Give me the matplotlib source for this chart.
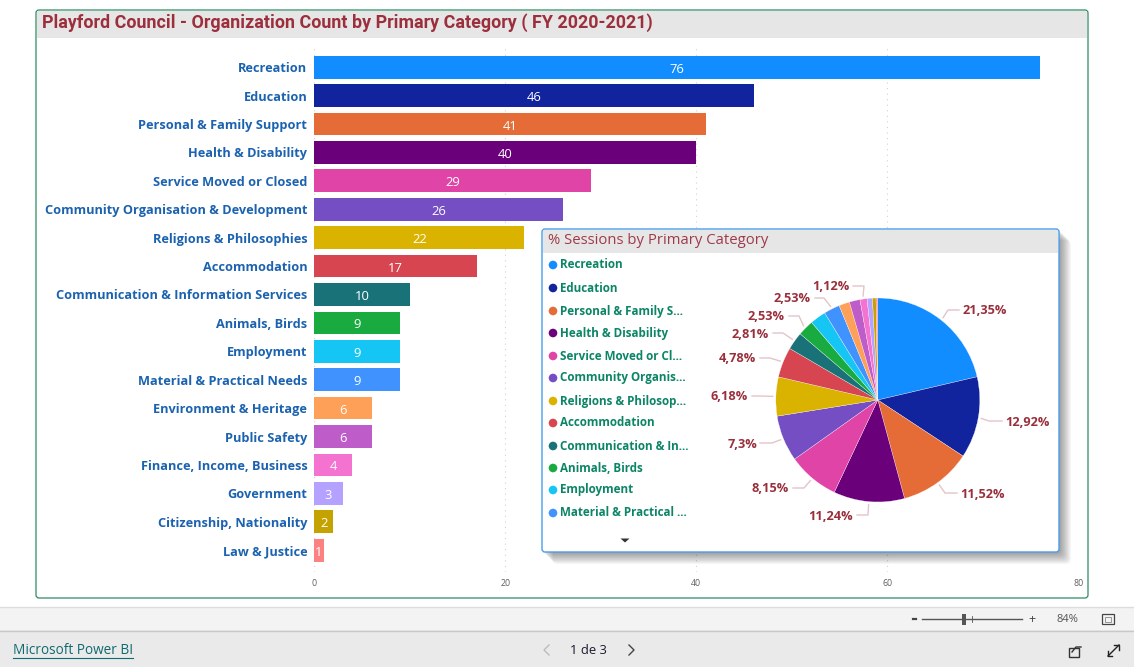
import matplotlib
matplotlib.use("Agg")
import numpy as np
import matplotlib.pyplot as plt
from matplotlib.patches import FancyBboxPatch, Rectangle, Circle, Polygon

categories = ["Recreation", "Education", "Personal & Family Support", "Health & Disability",
              "Service Moved or Closed", "Community Organisation & Development",
              "Religions & Philosophies", "Accommodation", "Communication & Information Services",
              "Animals, Birds", "Employment", "Material & Practical Needs", "Environment & Heritage",
              "Public Safety", "Finance, Income, Business", "Government",
              "Citizenship, Nationality", "Law & Justice"]
org_counts = [76, 46, 41, 40, 29, 26, 22, 17, 10, 9, 9, 9, 6, 6, 4, 3, 2, 1]
session_pct = [21.35, 12.92, 11.52, 11.24, 8.15, 7.3, 6.18, 4.78, 2.81, 2.53, 2.53, 2.53,
               1.69, 1.69, 1.12, 0.84, 0.56, 0.28]
colors = ["#118DFF", "#12239E", "#E66C37", "#6B007B", "#E044A7", "#744EC2", "#D9B300", "#D64550",
          "#197278", "#1AAB40", "#15C6F4", "#4092FF", "#FFA058", "#BE5DC9", "#F472D0", "#B5A1FF",
          "#C4A200", "#FB8281"]
legend_names = ["Recreation", "Education", "Personal & Family S...", "Health & Disability",
                "Service Moved or Cl...", "Community Organis...", "Religions & Philosop...",
                "Accommodation", "Communication & In...", "Animals, Birds", "Employment",
                "Material & Practical ..."]
x_ticks = [0, 20, 40, 60, 80]

W, H = 1134, 667
BODY = "Open Sans"
HEAD = "Roboto"
RED = "#9C2F3C"
TEAL = "#0B8566"
BLUE = "#1B62B0"


def px_axes(fig, x0, y0, x1, y1, **kw):
    return fig.add_axes([x0 / W, 1 - y1 / H, (x1 - x0) / W, (y1 - y0) / H], **kw)


def overlay(fig, zorder):
    ax = fig.add_axes([0, 0, 1, 1], zorder=zorder)
    ax.set_xlim(0, W)
    ax.set_ylim(H, 0)
    ax.axis("off")
    ax.patch.set_alpha(0)
    return ax


def card(ax, x0, y0, x1, y1, edge, lw=1.0, radius=3, fc="white", z=1):
    ax.add_patch(FancyBboxPatch((x0, y0), x1 - x0, y1 - y0, boxstyle=f"round,pad=0,rounding_size={radius}",
                                fc=fc, ec=edge, lw=lw, zorder=z))


fig = plt.figure(figsize=(W / 100, H / 100), dpi=100, facecolor="white")

# page chrome and main card
bg = overlay(fig, 0)
bg.add_patch(Rectangle((0, 607), W, 23, fc="#F3F3F3", ec="none"))
bg.add_patch(Rectangle((0, 630), W, 37, fc="#EAEAEA", ec="none"))
bg.plot([0, W], [607, 607], color="#DDDDDD", lw=1)
bg.plot([0, W], [630.5, 630.5], color="#C8C8C8", lw=1)
card(bg, 36, 10, 1088, 598, "#2E8B63", lw=0.9)
bg.add_patch(Rectangle((37, 11), 1050, 27, fc="#E6E6E6", ec="none", zorder=2))
bg.text(42, 23, "Playford Council - Organization Count by Primary Category ( FY 2020-2021)",
        family=HEAD, fontsize=12.87, fontweight="bold", color=RED, va="center", zorder=3)

# footer
bg.text(13, 651, "Microsoft Power BI", family=BODY, fontsize=9.8, fontweight="medium", color="#0F6A70", va="center")
bg.plot([13, 133], [658, 658], color="#0F6A70", lw=0.8)
bg.text(588, 650, "1 de 3", family=BODY, fontsize=9.4, fontweight="medium", color="#1A1A2E", va="center", ha="center")
bg.plot([549, 544, 549], [645, 650, 655], color="#BBBBBB", lw=1)
bg.plot([629, 634, 629], [645, 650, 655], color="#444444", lw=1)
bg.plot([913, 916], [619, 619], color="#444444", lw=1.6)
bg.plot([922, 1022], [619, 619], color="#555555", lw=1)
bg.add_patch(Rectangle((962, 614), 3.5, 11, fc="#555555", ec="none"))
bg.plot([972, 972], [616, 622], color="#555555", lw=0.6)
bg.text(1032, 619, "+", family=BODY, fontsize=9, color="#444444", ha="center", va="center")
bg.text(1067, 619, "84%", family=BODY, fontsize=8, color="#555555", ha="center", va="center")
bg.add_patch(Rectangle((1102, 614), 12, 10, fc="none", ec="#444444", lw=0.9))
bg.add_patch(Rectangle((1105, 616.5), 6, 5, fc="none", ec="#888888", lw=0.6))
bg.add_patch(Rectangle((1069, 648), 10, 9, fc="none", ec="#333333", lw=1))
bg.plot([1072, 1076, 1081], [652, 647, 647], color="#333333", lw=1)
bg.plot([1108, 1119], [656, 645], color="#222222", lw=1)
bg.plot([1108, 1108, 1112], [651, 656, 656], color="#222222", lw=1)
bg.plot([1114, 1119, 1119], [645, 645, 650], color="#222222", lw=1)

# bar chart
step = 28.41
top, bottom, x0_px, x1_px = 46, 572, 314.2, 1078.6
ax = px_axes(fig, x0_px, top, x1_px, bottom, zorder=1)
ax.patch.set_alpha(0)
y = np.arange(len(categories))
ax.barh(y, org_counts, height=0.8, color=colors, zorder=2)
ax.set_xlim(0, 80)
ax.set_ylim((bottom - 67.2) / step, (top - 67.2) / step)
ax.set_yticks(y)
ax.set_yticklabels(categories, family=BODY, fontsize=9.2, fontweight="bold", color=BLUE)
ax.set_xticks(x_ticks)
ax.set_xticklabels(x_ticks, family=BODY, fontsize=6.3, color="#605E5C")
ax.tick_params(length=0)
ax.tick_params(axis="y", pad=5)
ax.tick_params(axis="x", pad=5)
ax.grid(axis="x", color="#D2D2D2", lw=0.8, ls=(0, (1, 4)), zorder=0)
for s in ax.spines.values():
    s.set_visible(False)
for i, v in enumerate(org_counts):
    ax.text(v / 2, i + 0.07, str(v), family=BODY, fontsize=9.4, color="white", ha="center", va="center", zorder=3)

# popup with pie
top_ax = overlay(fig, 5)
for k in range(12):
    top_ax.add_patch(FancyBboxPatch((542 + k, 229 + k), 517 + 1, 323 + 1, boxstyle="round,pad=0,rounding_size=5",
                                    fc="#000000", ec="none", alpha=0.034, zorder=1))
card(top_ax, 542, 229, 1059, 552, "#4A9EEA", lw=1.0, z=2)
top_ax.add_patch(Rectangle((543, 230), 515, 23, fc="#E6E6E6", ec="none", zorder=3))
top_ax.text(548, 240.5, "% Sessions by Primary Category", family=BODY, fontsize=10.7, color="#A0394B",
            va="center", zorder=4)
legend_y = [265, 288, 311, 333, 356, 378, 401, 423, 446, 468, 490, 513]
for name, c, ly in zip(legend_names, colors, legend_y):
    top_ax.add_patch(Circle((553, ly), 4.3, fc=c, ec="none", zorder=4))
    top_ax.text(560, ly, name, family=BODY, fontsize=8.4, fontweight="bold", color=TEAL,
                va="center", zorder=4)
top_ax.add_patch(Polygon([[620.5, 538.5], [629.5, 538.5], [625, 542.5]], fc="#333333", ec="none", zorder=4))

cx, cy, r = 877.8, 400, 102
pie_ax = px_axes(fig, cx - r, cy - r, cx + r, cy + r, zorder=6)
wedges, _ = pie_ax.pie(session_pct, colors=colors, startangle=90, counterclock=False, radius=1,
                       wedgeprops={"edgecolor": "white", "linewidth": 0.2})
pie_ax.set_xlim(-1, 1)
pie_ax.set_ylim(-1, 1)

pie_labels = ["21,35%", "12,92%", "11,52%", "11,24%", "8,15%", "7,3%", "6,18%", "4,78%",
              "2,81%", "2,53%", "1,12%", "2,53%"]
label_wedge = [0, 1, 2, 3, 4, 5, 6, 7, 8, 9, 14, 11]
# elbow point, line end, text anchor
label_spots = [((948, 310), (959, 310), (963, 311, "left")),
               ((989, 421), (1002, 421), (1005, 422, "left")),
               ((945, 493), (957, 493), (960, 494, "left")),
               ((868, 515), (857, 515), (853, 516, "right")),
               ((804, 488), (793, 488), (789, 489, "right")),
               ((772, 443), (760, 443), (757, 444, "right")),
               ((760, 396), (752, 396), (748, 397, "right")),
               ((770, 358), (760, 358), (756, 358, "right")),
               ((783, 333), (773, 333), (769, 334, "right")),
               ((799, 316), (789, 316), (785, 317, "right")),
               ((864, 286), (853, 286), (849, 287, "right")),
               ((824, 298), (815, 298), (811, 298, "right"))]
lab_ax = overlay(fig, 7)
for text, wi, (elbow, end, (tx, ty, ha)) in zip(pie_labels, label_wedge, label_spots):
    mid = np.radians((wedges[wi].theta1 + wedges[wi].theta2) / 2)
    sx, sy = cx + (r + 3) * np.cos(mid), cy - (r + 3) * np.sin(mid)
    lab_ax.plot([sx, elbow[0], end[0]], [sy, elbow[1], end[1]], color="#E3C4C8", lw=1)
    lab_ax.text(tx, ty, text, family=BODY, fontsize=9.2, fontweight="bold", color="#9A2F3C",
                ha=ha, va="center")

fig.savefig("out.png", dpi=100)
